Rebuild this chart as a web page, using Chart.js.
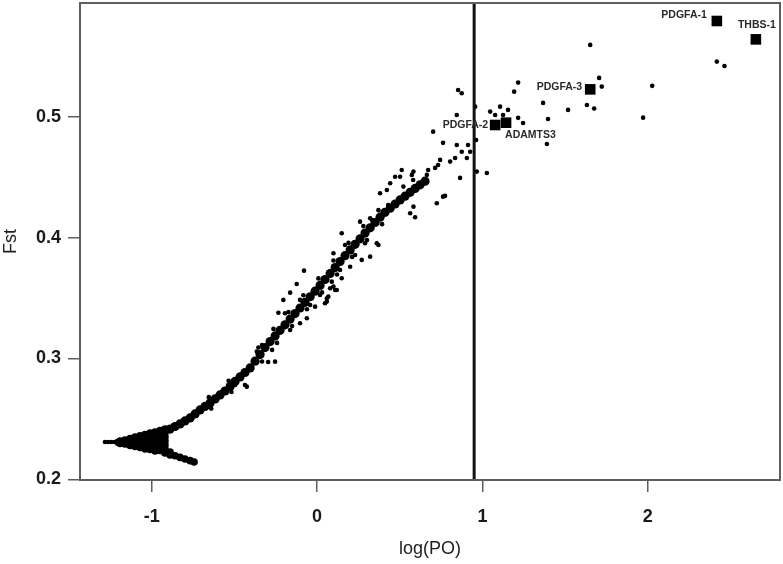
<!DOCTYPE html>
<html><head><meta charset="utf-8">
<script src="https://cdn.jsdelivr.net/npm/chart.js@4/dist/chart.umd.min.js"></script>
<style>html,body{margin:0;padding:0;background:#fff;}</style>
</head><body>
<canvas id="c" width="783" height="564"></canvas>
<script>
// ---- axis ticks ----
const xTicks = [-1, 0, 1, 2];
const xTickLabels = ['-1', '0', '1', '2'];
const yTicks = [0.2, 0.3, 0.4, 0.5];
const yTickLabels = ['0.2', '0.3', '0.4', '0.5'];
const xRange = [-1.434, 2.80];
const yRange = [0.1994, 0.5943];

// ---- vertical cut-off in log(PO) ----
const cutoffPO = 0.95;

// ---- labelled genes ----
const geneNames = ['PDGFA-1', 'THBS-1', 'PDGFA-3', 'PDGFA-2', 'ADAMTS3'];
const geneLogPO = [2.418, 2.654, 1.652, 1.077, 1.143];
const geneFst   = [0.5794, 0.5642, 0.5228, 0.4933, 0.4952];

// ---- dense arrow-shaped cloud of SNPs (log(PO), Fst) ----
const arrowCore = [
  [-1.192,0.2317],[-1.192,0.2296],
  [-1.162,0.2325],[-1.162,0.2292],
  [-1.131,0.2338],[-1.131,0.2309],[-1.131,0.2280],
  [-1.101,0.2350],[-1.101,0.2321],[-1.101,0.2292],[-1.101,0.2272],
  [-1.071,0.2359],[-1.071,0.2325],[-1.071,0.2292],[-1.071,0.2263],
  [-1.041,0.2371],[-1.041,0.2338],[-1.041,0.2305],[-1.041,0.2276],[-1.041,0.2251],
  [-1.010,0.2383],[-1.010,0.2350],[-1.010,0.2317],[-1.010,0.2284],[-1.010,0.2247],
  [-0.980,0.2392],[-0.980,0.2359],[-0.980,0.2325],[-0.980,0.2292],[-0.980,0.2259],[-0.980,0.2234],
  [-0.950,0.2404],[-0.950,0.2371],[-0.950,0.2338],[-0.950,0.2305],[-0.950,0.2272],[-0.950,0.2238],
  [-0.920,0.2416],[-0.920,0.2383],[-0.920,0.2350],[-0.920,0.2317],[-0.920,0.2284],[-0.920,0.2251],[-0.920,0.2218],
  [-0.889,0.2226],[-0.889,0.2201],[-0.859,0.2195],[-0.829,0.2181],[-0.799,0.2168],[-0.768,0.2154],[-0.744,0.2143]
];

// ---- main rising band of SNPs ----
const bandCore = [
  [-0.889,0.2416],[-0.859,0.2437],[-0.829,0.2458],[-0.799,0.2483],[-0.768,0.2508],
  [-0.738,0.2541],[-0.708,0.2574],[-0.678,0.2603],[-0.647,0.2632],[-0.617,0.2665],
  [-0.587,0.2698],[-0.557,0.2731],[-0.526,0.2768],[-0.496,0.2810],[-0.466,0.2847],
  [-0.436,0.2884],[-0.405,0.2922],[-0.375,0.2978],[-0.345,0.3033],[-0.315,0.3090],
  [-0.284,0.3140],[-0.254,0.3187],[-0.224,0.3233],[-0.194,0.3279],[-0.163,0.3326],
  [-0.133,0.3372],[-0.103,0.3418],[-0.073,0.3465],[-0.042,0.3511],[-0.012,0.3557],
  [0.018,0.3605],[0.048,0.3654],[0.079,0.3703],[0.109,0.3753],[0.139,0.3802],
  [0.169,0.3851],[0.200,0.3899],[0.230,0.3945],[0.260,0.3991],[0.290,0.4038],
  [0.321,0.4082],[0.351,0.4126],[0.381,0.4170],[0.411,0.4210],[0.442,0.4244],
  [0.472,0.4279],[0.502,0.4313],[0.532,0.4344],[0.563,0.4376],[0.593,0.4408],
  [0.623,0.4438],[0.653,0.4468]
];

// ---- individually visible SNPs ----
const snps = [
  [-1.283,0.2309],[-1.264,0.2309],[-1.246,0.2309],[-1.228,0.2309],[-1.210,0.2317],[-1.210,0.2296],
  [-0.123,0.3617],[-0.163,0.3545],[-0.204,0.3485],[-0.234,0.3379],[0.099,0.3595],[0.068,0.3512],
  [0.059,0.3471],[-0.012,0.3429],[-0.103,0.3292],[-0.062,0.3333],[-0.254,0.2974],[-0.425,0.2767],
  [-0.365,0.3057],[-0.194,0.3374],[0.119,0.3567],[0.089,0.3636],[-0.436,0.2781],
  [0.442,0.4451],[0.381,0.4368],[0.724,0.4285],[0.774,0.4346],[0.563,0.4202],[0.593,0.4169],
  [0.583,0.4257],[0.149,0.4037],[0.260,0.4133],[0.321,0.4161],[0.371,0.3940],[0.321,0.3843],
  [0.270,0.3816],[0.200,0.3760],[0.099,0.3871],[-0.079,0.3727],[0.079,0.3581],[0.109,0.3567],
  [0.149,0.3664],[0.059,0.3499],[0.048,0.3457],[0.290,0.3954],[0.361,0.3954],
  [0.853,0.5223],[0.875,0.5196],[0.845,0.5016],[0.702,0.4878],[0.762,0.4785],[0.845,0.4768],
  [0.913,0.4768],[0.875,0.4712],[0.926,0.4712],[0.835,0.4660],[0.805,0.4630],[0.906,0.4660],
  [0.744,0.4644],[0.732,0.4602],[0.672,0.4561],[0.664,0.4520],[0.714,0.4578],[0.512,0.4561],
  [0.472,0.4505],[0.573,0.4520],[0.865,0.4495],[0.762,0.4340],[0.581,0.4478],[0.623,0.4453],
  [0.956,0.5085],[0.962,0.4809],[0.966,0.4547],[1.027,0.4536],[0.422,0.4395],[0.502,0.4505],
  [0.583,0.4547],[0.522,0.4423],
  [1.047,0.5044],[1.077,0.5016],[1.107,0.5085],[1.155,0.5058],[1.125,0.5016],[1.216,0.4992],
  [1.246,0.4950],[1.216,0.5284],[1.192,0.5209],[1.367,0.5116],[1.397,0.4983],[1.390,0.4776],
  [1.518,0.5058],[1.632,0.5099],[1.676,0.5069],[1.706,0.5323],[1.722,0.5251],[1.652,0.5596],
  [2.027,0.5257],[1.972,0.4994],[2.418,0.5458],[2.464,0.5422],
  [-0.333,0.3112],[-0.272,0.3071],[-0.163,0.3236],[-0.042,0.3443],[0.139,0.3733],[0.230,0.3857],
  [0.169,0.3940],[0.333,0.4147],[0.430,0.4271],[-0.496,0.2781],[-0.575,0.2723],[-0.296,0.2971],
  [-0.103,0.3485],[0.018,0.3526],
  [-0.355,0.3091],[-0.333,0.2975],[-0.264,0.3245],[-0.242,0.3129],[-0.173,0.3384],[-0.151,0.3268],
  [-0.083,0.3523],[-0.061,0.3407],[0.008,0.3663],[0.030,0.3547],[0.099,0.3811],[0.121,0.3695],
  [0.190,0.3957],[0.212,0.3841],[0.280,0.4096],[0.302,0.3980],[0.371,0.4228],[0.393,0.4112],
  [-0.655,0.2680],[-0.640,0.2585],[-0.535,0.2815],[-0.518,0.2722]
];

// ---- label placement (style only) ----
const labelPlacement = [
  {align:'right',  dx:-10, dy:-6},
  {align:'center', dx:1,   dy:-14},
  {align:'right',  dx:-8,  dy:-2},
  {align:'right',  dx:-7,  dy:0},
  {align:'left',   dx:-1,  dy:12}
];

const toPts = arr => arr.map(p => ({x: p[0], y: p[1]}));
const FAMILY = '"Liberation Sans", Arial, Helvetica, sans-serif';

const boxPlugin = {
  id: 'rbox',
  afterDatasetsDraw(chart) {
    const a = chart.chartArea, ctx = chart.ctx;
    ctx.save();
    ctx.strokeStyle = '#5e5e5e';
    ctx.lineWidth = 2;
    ctx.strokeRect(a.left, a.top, a.right - a.left, a.bottom - a.top);
    ctx.restore();
  }
};

const labelPlugin = {
  id: 'geneLabels',
  afterDatasetsDraw(chart) {
    const meta = chart.getDatasetMeta(0);
    const ctx = chart.ctx;
    ctx.save();
    ctx.font = 'bold 10.5px ' + FAMILY;
    ctx.fillStyle = '#2a2a2a';
    ctx.textBaseline = 'middle';
    meta.data.forEach((el, i) => {
      const p = labelPlacement[i];
      ctx.textAlign = p.align;
      ctx.fillText(geneNames[i], el.x + p.dx, el.y + p.dy);
    });
    ctx.restore();
  }
};

new Chart(document.getElementById('c'), {
  type: 'scatter',
  data: {
    datasets: [
      {label: 'genes', data: geneLogPO.map((x, i) => ({x: x, y: geneFst[i]})),
       pointStyle: 'rect', pointRadius: 7.5, backgroundColor: '#000', borderColor: '#000', borderWidth: 0},
      {label: 'cutoff', type: 'line', showLine: true, fill: false,
       data: [{x: cutoffPO, y: yRange[0]}, {x: cutoffPO, y: yRange[1]}],
       borderColor: '#111', borderWidth: 3, pointRadius: 0},
      {label: 'arrow', data: toPts(arrowCore), pointRadius: 3.8, backgroundColor: '#000', borderWidth: 0},
      {label: 'band', data: toPts(bandCore), pointRadius: 4.6, backgroundColor: '#000', borderWidth: 0},
      {label: 'snps', data: toPts(snps), pointRadius: 2.3, backgroundColor: '#000', borderWidth: 0}
    ]
  },
  options: {
    responsive: false, animation: false, devicePixelRatio: 1,
    layout: {autoPadding: false, padding: {top: 3, right: 3, left: 0, bottom: 0}},
    plugins: {legend: {display: false}, tooltip: {enabled: false}},
    scales: {
      x: {
        type: 'linear', min: xRange[0], max: xRange[1],
        afterFit: s => { s.height = 84; s.paddingLeft = 0; s.paddingRight = 0; },
        afterBuildTicks: s => { s.ticks = xTicks.map(v => ({value: v})); },
        grid: {drawOnChartArea: false, drawTicks: true, tickLength: 12, color: '#5e5e5e', lineWidth: 1.5},
        border: {display: false},
        ticks: {padding: 14, color: '#1a1a1a', font: {family: FAMILY, size: 18, weight: 'bold'},
                callback: (v, i) => xTickLabels[i], maxRotation: 0, autoSkip: false},
        title: {display: true, text: 'log(PO)', color: '#222',
                font: {family: FAMILY, size: 18, weight: 'normal'}, padding: {top: 0, bottom: 4}}
      },
      y: {
        type: 'linear', min: yRange[0], max: yRange[1],
        afterFit: s => { s.width = 80; s.paddingTop = 0; s.paddingBottom = 0; },
        afterBuildTicks: s => { s.ticks = yTicks.map(v => ({value: v})); },
        grid: {drawOnChartArea: false, drawTicks: true, tickLength: 12, color: '#5e5e5e', lineWidth: 1.5},
        border: {display: false},
        ticks: {padding: 7, color: '#1a1a1a', font: {family: FAMILY, size: 18, weight: 'bold'},
                callback: (v, i) => yTickLabels[i], autoSkip: false},
        title: {display: true, text: 'Fst', color: '#222',
                font: {family: FAMILY, size: 18, weight: 'normal'}, padding: {top: 0, bottom: 0}}
      }
    }
  },
  plugins: [boxPlugin, labelPlugin]
});
</script>
</body></html>
